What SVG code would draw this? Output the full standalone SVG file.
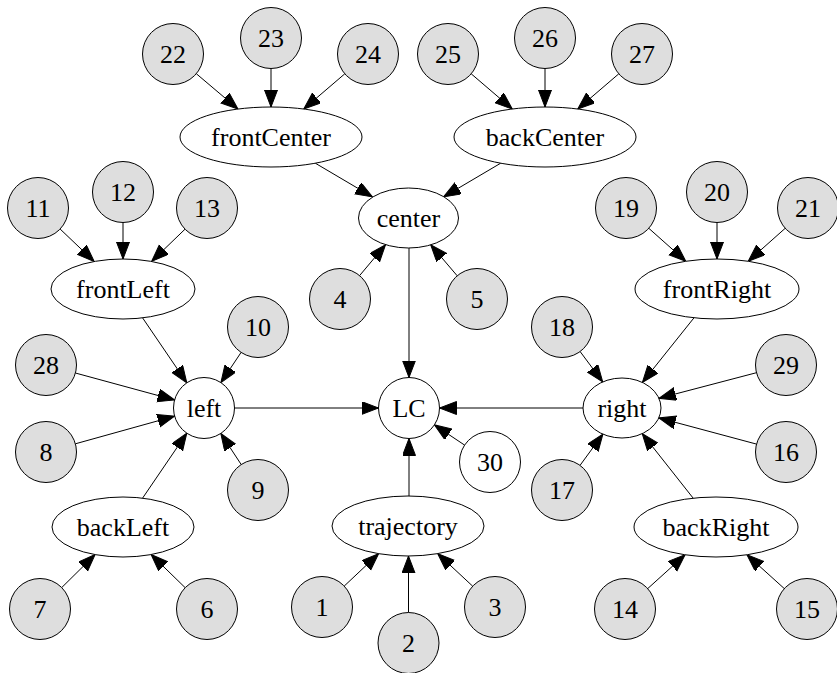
<svg xmlns="http://www.w3.org/2000/svg" width="837" height="673" viewBox="0 0 837 673">
<style>
.n ellipse, .n circle { fill: #ffffff; stroke: #000000; stroke-width: 1; }
.g circle { fill: #dedede; }
text { font-family: "Liberation Serif", "Times New Roman", serif; font-size: 26px; text-anchor: middle; fill: #000000; }
.e path { fill: none; stroke: #000000; stroke-width: 1; marker-end: url(#ah); }
</style>
<defs>
<marker id="ah" markerUnits="userSpaceOnUse" markerWidth="20" markerHeight="14" refX="17" refY="6.5" orient="auto">
<path d="M0,0 L17,6.5 L0,13 Z" fill="#000000" stroke="#000000" stroke-width="1"/>
</marker>
</defs>
<rect width="837" height="673" fill="#ffffff"/>
<g id="edges" class="e">
<path d="M196.3,73.7 L238,109"/>
<path d="M271,68.5 L271,107"/>
<path d="M344.8,73.8 L303.7,109"/>
<path d="M471.2,73.8 L512.3,109"/>
<path d="M545,68.5 L545,107"/>
<path d="M618.8,73.8 L577.7,109"/>
<path d="M315.3,163.2 L372.4,196.9"/>
<path d="M500.7,163.2 L443.6,196.9"/>
<path d="M359.6,275.6 L385.5,244.8"/>
<path d="M457.2,275.8 L430.7,244.7"/>
<path d="M409,248 L409,377.5"/>
<path d="M234.5,408 L378.5,408"/>
<path d="M583,408 L439.5,408"/>
<path d="M409,496 L409,438.5"/>
<path d="M464.6,445.1 L434.4,424.9"/>
<path d="M60.1,229 L94.2,261.5"/>
<path d="M123,222.5 L123,259"/>
<path d="M185,229.2 L151.6,261.4"/>
<path d="M142.6,317.9 L186.8,382.8"/>
<path d="M241.1,352.4 L220.9,382.6"/>
<path d="M75.4,373 L174.6,400"/>
<path d="M75.4,443.8 L174.6,416.2"/>
<path d="M241.2,464.5 L220.8,433.5"/>
<path d="M142.6,498.1 L186.8,433.2"/>
<path d="M61.7,587.6 L95.1,554.6"/>
<path d="M185.2,587.7 L151.1,554.5"/>
<path d="M648.8,228.3 L685.8,261.2"/>
<path d="M717,222.5 L717,259"/>
<path d="M785.2,228.3 L748.2,261.2"/>
<path d="M694,317.8 L642.4,382.4"/>
<path d="M580.1,351.5 L602.7,381.9"/>
<path d="M756.5,372.7 L658.9,398.3"/>
<path d="M756.5,444.1 L658.8,417.9"/>
<path d="M580,465.4 L602.9,434.1"/>
<path d="M693.2,498.2 L642.2,433.6"/>
<path d="M647.7,588.6 L685.1,554.8"/>
<path d="M784.3,588.6 L746.9,554.8"/>
<path d="M344.2,586.1 L378.6,553.7"/>
<path d="M408.5,612.5 L408.5,556"/>
<path d="M472.7,586.2 L437.7,553.6"/>
</g>
<g id="n22" class="n g"><circle cx="173" cy="54" r="30.5"/><text x="173" y="63">22</text></g>
<g id="n23" class="n g"><circle cx="271" cy="38" r="30.5"/><text x="271" y="47">23</text></g>
<g id="n24" class="n g"><circle cx="368" cy="54" r="30.5"/><text x="368" y="63">24</text></g>
<g id="frontCenter" class="n"><ellipse cx="271" cy="137" rx="91" ry="30"/><text x="271" y="146">frontCenter</text></g>
<g id="n25" class="n g"><circle cx="448" cy="54" r="30.5"/><text x="448" y="63">25</text></g>
<g id="n26" class="n g"><circle cx="545" cy="38" r="30.5"/><text x="545" y="47">26</text></g>
<g id="n27" class="n g"><circle cx="642" cy="54" r="30.5"/><text x="642" y="63">27</text></g>
<g id="backCenter" class="n"><ellipse cx="545" cy="137" rx="91" ry="30"/><text x="545" y="146">backCenter</text></g>
<g id="center" class="n"><ellipse cx="408.5" cy="218" rx="50" ry="30"/><text x="408.5" y="227">center</text></g>
<g id="n4" class="n g"><circle cx="340" cy="299" r="30.5"/><text x="340" y="308">4</text></g>
<g id="n5" class="n g"><circle cx="477" cy="299" r="30.5"/><text x="477" y="308">5</text></g>
<g id="LC" class="n"><circle cx="409" cy="408" r="30.5"/><text x="409" y="417">LC</text></g>
<g id="n30" class="n"><circle cx="490" cy="462" r="30.5"/><text x="490" y="471">30</text></g>
<g id="n11" class="n g"><circle cx="38" cy="208" r="30.5"/><text x="38" y="217">11</text></g>
<g id="n12" class="n g"><circle cx="123" cy="192" r="30.5"/><text x="123" y="201">12</text></g>
<g id="n13" class="n g"><circle cx="207" cy="208" r="30.5"/><text x="207" y="217">13</text></g>
<g id="frontLeft" class="n"><ellipse cx="123" cy="289" rx="72" ry="30"/><text x="123" y="298">frontLeft</text></g>
<g id="n10" class="n g"><circle cx="258" cy="327" r="30.5"/><text x="258" y="336">10</text></g>
<g id="n28" class="n g"><circle cx="46" cy="365" r="30.5"/><text x="46" y="374">28</text></g>
<g id="left" class="n"><circle cx="204" cy="408" r="30.5"/><text x="204" y="417">left</text></g>
<g id="n8" class="n g"><circle cx="46" cy="452" r="30.5"/><text x="46" y="461">8</text></g>
<g id="n9" class="n g"><circle cx="258" cy="490" r="30.5"/><text x="258" y="499">9</text></g>
<g id="backLeft" class="n"><ellipse cx="123" cy="527" rx="71" ry="30"/><text x="123" y="536">backLeft</text></g>
<g id="n7" class="n g"><circle cx="40" cy="609" r="30.5"/><text x="40" y="618">7</text></g>
<g id="n6" class="n g"><circle cx="207" cy="609" r="30.5"/><text x="207" y="618">6</text></g>
<g id="n19" class="n g"><circle cx="626" cy="208" r="30.5"/><text x="626" y="217">19</text></g>
<g id="n20" class="n g"><circle cx="717" cy="192" r="30.5"/><text x="717" y="201">20</text></g>
<g id="n21" class="n g"><circle cx="808" cy="208" r="30.5"/><text x="808" y="217">21</text></g>
<g id="frontRight" class="n"><ellipse cx="717" cy="289" rx="82" ry="30"/><text x="717" y="298">frontRight</text></g>
<g id="n18" class="n g"><circle cx="562" cy="327" r="30.5"/><text x="562" y="336">18</text></g>
<g id="n29" class="n g"><circle cx="786" cy="365" r="30.5"/><text x="786" y="374">29</text></g>
<g id="right" class="n"><ellipse cx="622" cy="408" rx="39" ry="30"/><text x="622" y="417">right</text></g>
<g id="n16" class="n g"><circle cx="786" cy="452" r="30.5"/><text x="786" y="461">16</text></g>
<g id="n17" class="n g"><circle cx="562" cy="490" r="30.5"/><text x="562" y="499">17</text></g>
<g id="backRight" class="n"><ellipse cx="716" cy="527" rx="82" ry="30"/><text x="716" y="536">backRight</text></g>
<g id="n14" class="n g"><circle cx="625" cy="609" r="30.5"/><text x="625" y="618">14</text></g>
<g id="n15" class="n g"><circle cx="807" cy="609" r="30.5"/><text x="807" y="618">15</text></g>
<g id="trajectory" class="n"><ellipse cx="408" cy="526" rx="76" ry="30"/><text x="408" y="535">trajectory</text></g>
<g id="n1" class="n g"><circle cx="322" cy="607" r="30.5"/><text x="322" y="616">1</text></g>
<g id="n2" class="n g"><circle cx="408.5" cy="643" r="30.5"/><text x="408.5" y="652">2</text></g>
<g id="n3" class="n g"><circle cx="495" cy="607" r="30.5"/><text x="495" y="616">3</text></g>
</svg>
